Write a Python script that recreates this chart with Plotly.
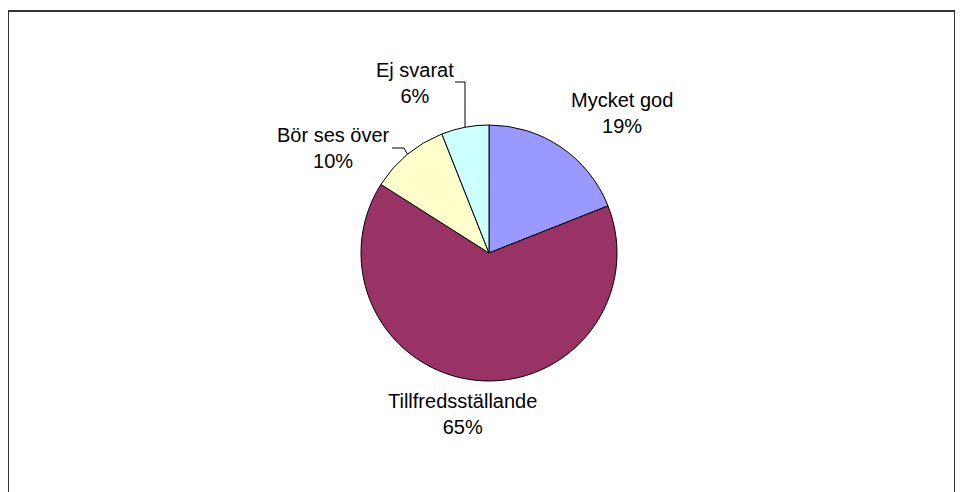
import math
import plotly.graph_objects as go

# data
kategorier = ['Mycket god', 'Tillfredsställande', 'Bör ses över', 'Ej svarat']
andel = [19, 65, 10, 6]
farger = ['#9999FF', '#993366', '#FFFFCC', '#CCFFFF']

# sidan har 8px marginal i body, så figuren räknas i skärmpixlar minus 8
OFF = 8
W, H = 963 - OFF, 492 - OFF
cx, cy, r = 489, 253, 128

def px(x):
    return (x - OFF) / W

def py(y):
    return 1 - (y - OFF) / H

fig = go.Figure()
fig.add_trace(go.Pie(
    labels=kategorier,
    values=andel,
    sort=False,
    direction='clockwise',
    rotation=0,
    textinfo='none',
    hoverinfo='label+percent',
    marker=dict(colors=farger, line=dict(color='black', width=1)),
    domain=dict(x=[px(cx - r), px(cx + r)], y=[py(cy + r), py(cy - r)]),
    showlegend=False
))

# etikettpositioner (skärmpixlar) och hjälplinjer
etikett_pos = [(622, 113), (462, 414), (333, 148), (415, 83)]
knack = [None, None, (392, 148, 12), (455, 82, 10)]

total = sum(andel)
start = 0.0
annots = []
shapes = []
for i, (namn, v) in enumerate(zip(kategorier, andel)):
    mitt = start + v / total * 360 / 2
    start += v / total * 360
    ex = cx + r * math.sin(math.radians(mitt))
    ey = cy - r * math.cos(math.radians(mitt))
    lx, ly = etikett_pos[i]
    annots.append(dict(
        x=px(lx), y=py(ly), xref='paper', yref='paper',
        xanchor='center', yanchor='middle',
        text=f'{namn}<br>{round(v / total * 100)}%',
        showarrow=False, align='center',
        font=dict(family='Liberation Sans, Arial', size=20, color='black')
    ))
    if knack[i]:
        kx, ky, kl = knack[i]
        pts = [(kx, ky), (kx + kl, ky), (ex, ey)]
        path = 'M ' + ' L '.join(f'{px(a)},{py(b)}' for a, b in pts)
        shapes.append(dict(type='path', xref='paper', yref='paper', path=path,
                           line=dict(color='black', width=1)))

# ram
shapes.append(dict(type='rect', xref='paper', yref='paper',
                   x0=px(8), x1=px(955), y0=py(500), y1=py(11),
                   line=dict(color='#333333', width=2)))

fig.update_layout(
    width=W, height=H,
    margin=dict(l=0, r=0, t=0, b=0),
    paper_bgcolor='white',
    plot_bgcolor='white',
    annotations=annots,
    shapes=shapes
)

fig.write_html('out.html')
